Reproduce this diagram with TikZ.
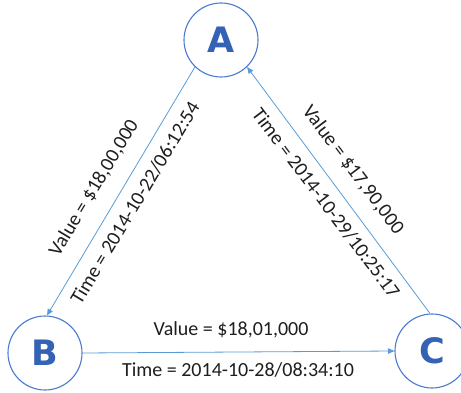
\documentclass[tikz,border=0pt]{standalone}
\usepackage{fontspec}
\setmainfont{Carlito}
\newfontfamily\letterfont{DejaVu Sans}
\usetikzlibrary{arrows.meta}
\definecolor{ringblue}{HTML}{4A7BD0}
\definecolor{letterblue}{HTML}{3462B4}
\definecolor{edgeblue}{HTML}{5B9BD5}
\definecolor{labelgray}{HTML}{1E1E1E}
\tikzset{
  party/.style={circle, draw=ringblue, line width=1.1pt, fill=white,
    minimum size=74pt, inner sep=0pt, text=letterblue,
    font=\letterfont\bfseries\fontsize{35}{35}\selectfont},
  transfer/.style={draw=edgeblue, line width=0.8pt,
    -{Triangle[length=6.5pt,width=5.5pt]}},
  info/.style={text=labelgray, inner sep=0pt,
    font=\fontsize{20}{22}\selectfont}
}
\begin{document}
\begin{tikzpicture}[x=1pt,y=-1pt]
  \useasboundingbox (0,0) rectangle (461,393);
  % the three parties
  \node[party] (A) at (221,40) {A};
  \node[party] (B) at (45,353) {B};
  \node[party] (C) at (432,351) {C};
  % transfers between them
  \draw[transfer] (A.226) -- (B.87);
  \draw[transfer] (B.east) -- (C.west);
  \draw[transfer] (C.93) -- (A.314);
  % A to B
  \node[info, rotate=59] (abv) at (94,188) {Value = \$18,00,000};
  \node[info, rotate=59] (abt) at (135,203) {Time = 2014-10-22/06:12:54};
  % C to A
  \node[info, rotate=-53] (cav) at (353,170) {Value = \$17,90,000};
  \node[info, rotate=-53] (cat) at (326,203) {Time = 2014-10-29/10:25:17};
  % B to C
  \node[info] (bcv) at (231,330) {Value = \$18,01,000};
  \node[info] (bct) at (238,370) {Time = 2014-10-28/08:34:10};
\end{tikzpicture}
\end{document}
